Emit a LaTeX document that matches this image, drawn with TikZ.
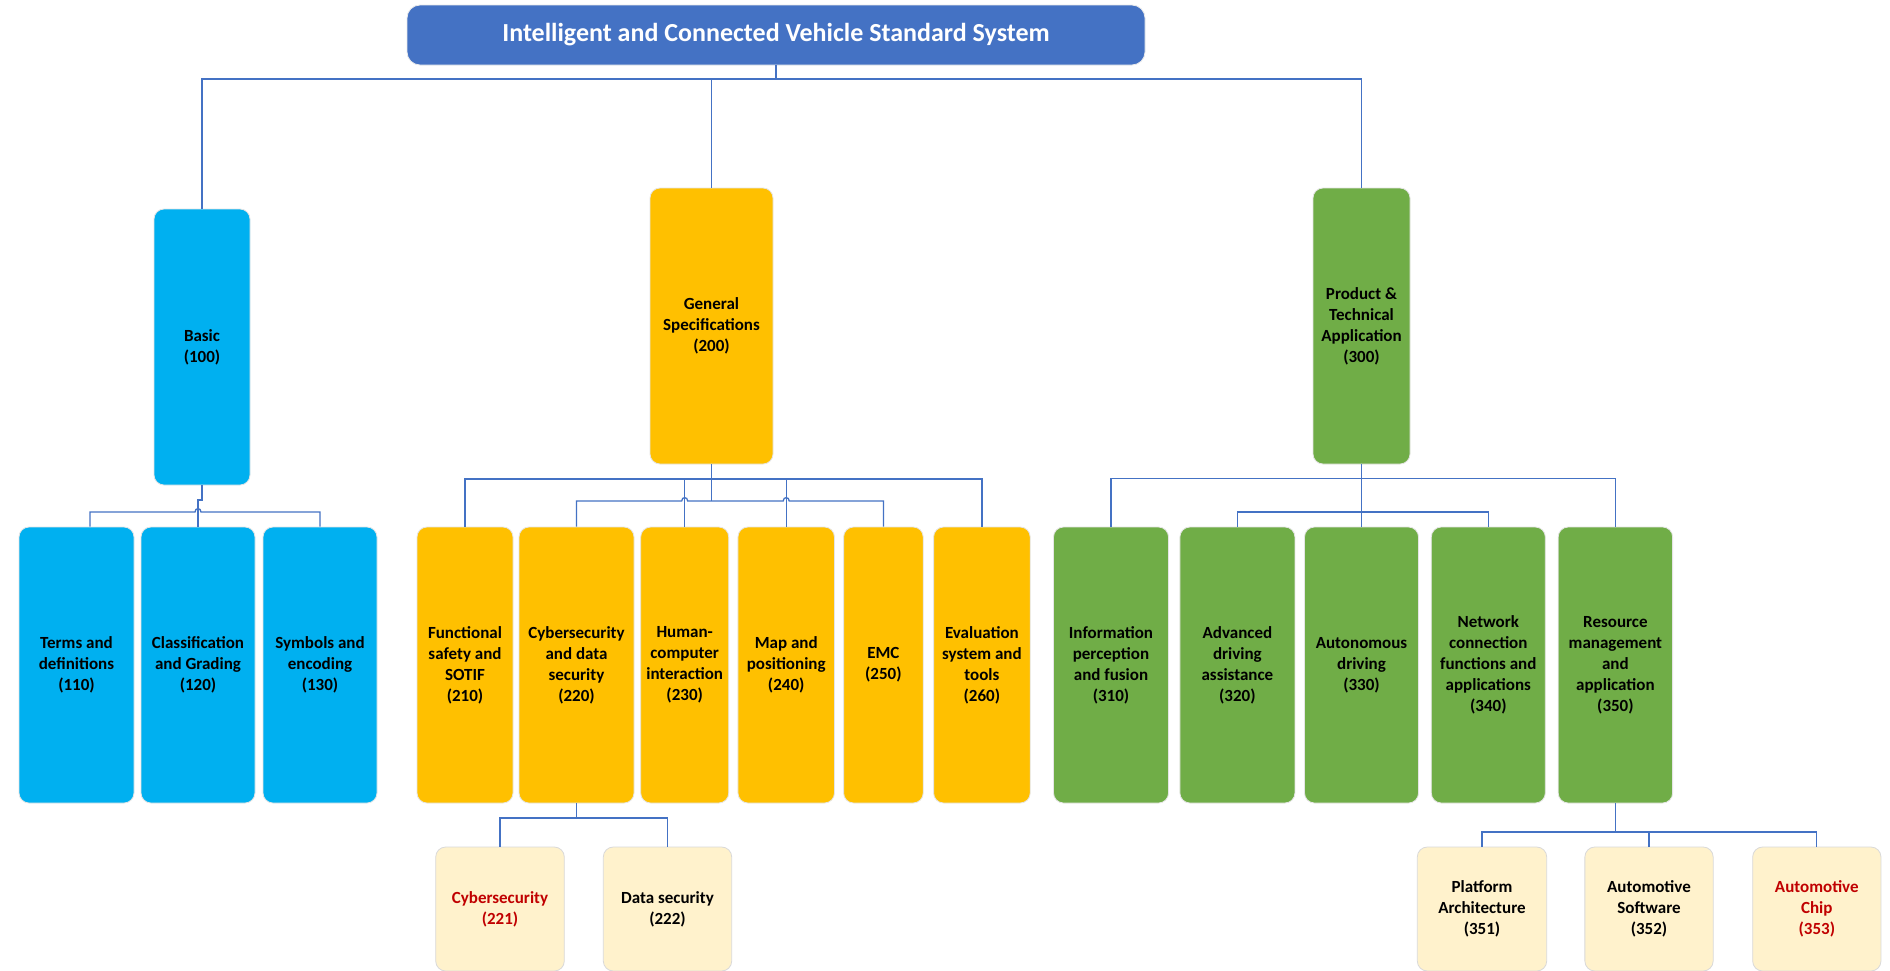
\documentclass[tikz,border=0pt]{standalone}
\usepackage{fontspec}
\setmainfont{Carlito}
\usetikzlibrary{calc}

\definecolor{titleblue}{HTML}{4472C4}
\definecolor{linkblue}{HTML}{4472C4}
\definecolor{basicblue}{HTML}{00B0F0}
\definecolor{genyellow}{HTML}{FFC000}
\definecolor{prodgreen}{HTML}{70AD47}
\definecolor{paleyellow}{HTML}{FFF2CC}
\definecolor{stdred}{HTML}{C00000}

\tikzset{
  box/.style={rounded corners=10pt, draw=black!10, line width=0.8pt,
    inner sep=0pt, align=center,
    font=\fontsize{17}{21}\selectfont\bfseries},
  basicbox/.style={box, fill=basicblue},
  genbox/.style={box, fill=genyellow},
  prodbox/.style={box, fill=prodgreen},
  subbox/.style={box, fill=paleyellow, draw=black!15},
  titlebox/.style={rounded corners=13pt, draw=black!8, line width=0.8pt,
    fill=titleblue, text=white, align=center,
    font=\fontsize{26}{30}\selectfont\bfseries},
  link/.style={draw=linkblue, line width=1.3pt},
}

\begin{document}
\begin{tikzpicture}[x=1pt, y=-1pt]
\useasboundingbox (0,0) rectangle (1890,970);
\fill[white] (0,0) rectangle (1890,970);

% top level
\node[titlebox, minimum width=738pt, minimum height=60pt] (title) at (776,35)
  {Intelligent and Connected Vehicle Standard System};

% first level
\node[basicbox, minimum width=96pt, minimum height=276pt] (b100) at (202,347) {Basic\\(100)};
\node[genbox, minimum width=123pt, minimum height=276pt] (g200) at (711.5,326) {General\\Specifications\\(200)};
\node[prodbox, minimum width=97pt, minimum height=276pt] (p300) at (1361.5,326) {Product \&\\Technical\\Application\\(300)};

% second level
\node[basicbox, minimum width=115pt, minimum height=276pt] (t110) at (76.5,665) {Terms and\\definitions\\(110)};
\node[basicbox, minimum width=114pt, minimum height=276pt] (t120) at (198,665) {Classification\\and Grading\\(120)};
\node[basicbox, minimum width=114pt, minimum height=276pt] (t130) at (320,665) {Symbols and\\encoding\\(130)};

\node[genbox, minimum width=96pt, minimum height=276pt] (t210) at (465,665) {Functional\\safety and\\SOTIF\\(210)};
\node[genbox, minimum width=115pt, minimum height=276pt] (t220) at (576.5,665) {Cybersecurity\\and data\\security\\(220)};
\node[genbox, minimum width=88pt, minimum height=276pt] (t230) at (684.7,665) {Human-\\computer\\interaction\\(230)};
\node[genbox, minimum width=96.5pt, minimum height=276pt] (t240) at (786.2,665) {Map and\\positioning\\(240)};
\node[genbox, minimum width=79.6pt, minimum height=276pt] (t250) at (883.4,665) {EMC\\(250)};
\node[genbox, minimum width=96.6pt, minimum height=276pt] (t260) at (981.9,665) {Evaluation\\system and\\tools\\(260)};

\node[prodbox, minimum width=115pt, minimum height=276pt] (t310) at (1111,665) {Information\\perception\\and fusion\\(310)};
\node[prodbox, minimum width=115pt, minimum height=276pt] (t320) at (1237.4,665) {Advanced\\driving\\assistance\\(320)};
\node[prodbox, minimum width=114pt, minimum height=276pt] (t330) at (1361.5,665) {Autonomous\\driving\\(330)};
\node[prodbox, minimum width=114pt, minimum height=276pt] (t340) at (1488.3,665) {Network\\connection\\functions and\\applications\\(340)};
\node[prodbox, minimum width=114.4pt, minimum height=276pt] (t350) at (1615.4,665) {Resource\\management\\and\\application\\(350)};

% third level
\node[subbox, minimum width=128.6pt, minimum height=124pt, text=stdred] (t221) at (500,909) {Cybersecurity\\(221)};
\node[subbox, minimum width=128.4pt, minimum height=124pt] (t222) at (667.5,909) {Data security\\(222)};
\node[subbox, minimum width=129.4pt, minimum height=124pt] (t351) at (1482,909) {Platform\\Architecture\\(351)};
\node[subbox, minimum width=128.3pt, minimum height=124pt] (t352) at (1649,909) {Automotive\\Software\\(352)};
\node[subbox, minimum width=128.3pt, minimum height=124pt, text=stdred] (t353) at (1816.8,909) {Automotive\\Chip\\(353)};

% bus heights
\coordinate (ytop) at (0,79);
\coordinate (yb) at (0,512);
\coordinate (ybj) at (0,500);
\coordinate (ygu) at (0,479);
\coordinate (ygl) at (0,501);
\coordinate (ypu) at (0,478.5);
\coordinate (ypl) at (0,512);
\coordinate (ycs) at (0,818);
\coordinate (yrs) at (0,832);

% title to first level
\draw[link] (title.south) -- (title.south |- ytop);
\draw[link] (b100.north) -- (b100.north |- ytop) -- (p300.north |- ytop) -- (p300.north);
\draw[link] (g200.north) -- (g200.north |- ytop);

% basic branch
\draw[link] (b100.south) -- (b100.south |- ybj) -- (t120.north |- ybj) -- (t120.north);
\draw[link] ($(t110.north)+(13.5,0)$) -- ($(t110.north |- yb)+(13.5,0)$)
  -- ($(t120.north |- yb)+(-3,0)$)
  .. controls +(0,-4.5) and +(0,-4.5) .. ($(t120.north |- yb)+(3,0)$)
  -- (t130.north |- yb) -- (t130.north);

% general branch
\draw[link] (g200.south) -- (g200.south |- ygl);
\draw[link] (t210.north) -- (t210.north |- ygu) -- (t260.north |- ygu) -- (t260.north);
\draw[link] (t230.north) -- (t230.north |- ygu);
\draw[link] (t240.north) -- (t240.north |- ygu);
\draw[link] (t220.north) -- (t220.north |- ygl)
  -- ($(t230.north |- ygl)+(-3,0)$)
  .. controls +(0,-4.5) and +(0,-4.5) .. ($(t230.north |- ygl)+(3,0)$)
  -- ($(t240.north |- ygl)+(-3,0)$)
  .. controls +(0,-4.5) and +(0,-4.5) .. ($(t240.north |- ygl)+(3,0)$)
  -- (t250.north |- ygl) -- (t250.north);

% product branch
\draw[link] (p300.south) -- (t330.north);
\draw[link] (t310.north) -- (t310.north |- ypu) -- (t350.north |- ypu) -- (t350.north);
\draw[link] (t320.north) -- (t320.north |- ypl) -- (t340.north |- ypl) -- (t340.north);

% third level links
\draw[link] (t220.south) -- (t220.south |- ycs);
\draw[link] (t221.north) -- (t221.north |- ycs) -- (t222.north |- ycs) -- (t222.north);
\draw[link] (t350.south) -- (t350.south |- yrs);
\draw[link] (t351.north) -- (t351.north |- yrs) -- (t353.north |- yrs) -- (t353.north);
\draw[link] (t352.north) -- (t352.north |- yrs);
\end{tikzpicture}
\end{document}
